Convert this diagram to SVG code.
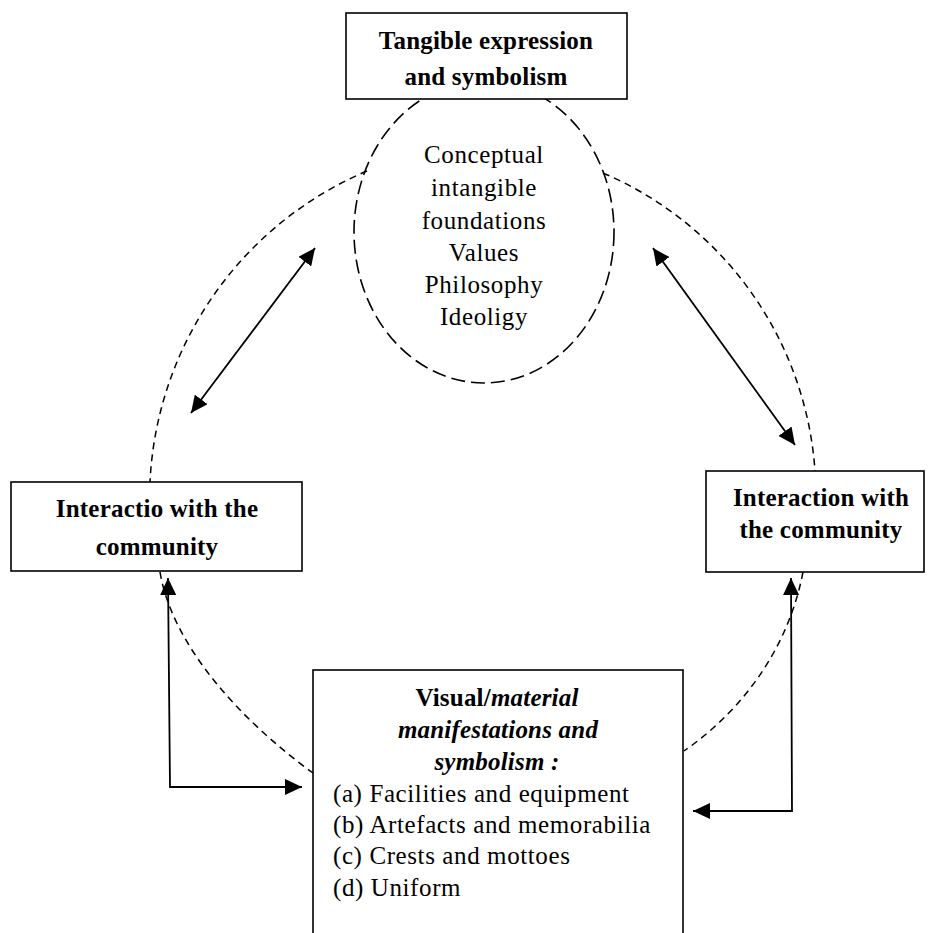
<svg xmlns="http://www.w3.org/2000/svg" width="928" height="933" viewBox="0 0 928 933">
<style>
text{font-family:"Liberation Serif","Times New Roman",serif;font-size:25px;fill:#000;letter-spacing:0.6px}
.b{font-weight:bold;letter-spacing:0.2px}
.c{text-anchor:middle}
.bi{font-weight:bold;font-style:italic;letter-spacing:0.2px}
.box{fill:#fff;stroke:#000;stroke-width:1.6}
.arc{fill:none;stroke:#000;stroke-width:1.5;stroke-dasharray:7 5}
.ell{fill:none;stroke:#000;stroke-width:1.6;stroke-dasharray:14 6}
.con{fill:none;stroke:#000;stroke-width:1.8}
</style>
<defs>
<marker id="ah" markerUnits="userSpaceOnUse" markerWidth="18" markerHeight="16" refX="17" refY="8" orient="auto-start-reverse">
<path d="M0,0 L17,8 L0,16 z" fill="#000"/>
</marker>
</defs>
<g id="cycle">
<path class="arc" d="M367,171 A356,356 0 0,0 150,482"/>
<path class="arc" d="M603,173 A350,350 0 0,1 815,471"/>
<path class="arc" d="M160,572 C172,645 240,720 313,773"/>
<path class="arc" d="M803,572 C790,640 750,705 684,751"/>
</g>
<g id="foundations">
<ellipse class="ell" cx="484" cy="232" rx="130" ry="151"/>
<text class="c" x="484" y="163">Conceptual</text>
<text class="c" x="484" y="196">intangible</text>
<text class="c" x="484" y="229">foundations</text>
<text class="c" x="484" y="261">Values</text>
<text class="c" x="484" y="293">Philosophy</text>
<text class="c" x="484" y="325">Ideoligy</text>
</g>
<g id="tangible">
<rect class="box" x="346" y="13" width="281" height="86"/>
<text class="b c" x="486" y="49">Tangible expression</text>
<text class="b c" x="486" y="85">and symbolism</text>
</g>
<g id="community-left">
<rect class="box" x="11" y="482" width="291" height="89"/>
<text class="b c" x="157" y="517">Interactio with the</text>
<text class="b c" x="157" y="555">community</text>
</g>
<g id="community-right">
<rect class="box" x="706" y="471" width="218" height="101"/>
<text class="b c" x="821" y="506">Interaction with</text>
<text class="b c" x="821" y="538">the community</text>
</g>
<g id="visual">
<rect class="box" x="313" y="670" width="370" height="280"/>
<text class="c" x="497" y="706"><tspan class="b">Visual/</tspan><tspan class="bi">material</tspan></text>
<text class="bi c" x="498" y="738">manifestations and</text>
<text class="bi c" x="497" y="770">symbolism :</text>
<text x="333" y="802">(a) Facilities and equipment</text>
<text x="333" y="833">(b) Artefacts and memorabilia</text>
<text x="333" y="864">(c) Crests and mottoes</text>
<text x="333" y="896">(d) Uniform</text>
</g>
<g id="connectors">
<line class="con" x1="191" y1="413" x2="315" y2="248" marker-start="url(#ah)" marker-end="url(#ah)"/>
<line class="con" x1="653" y1="248" x2="795" y2="445" marker-start="url(#ah)" marker-end="url(#ah)"/>
<polyline class="con" points="302,787 170,787 168,578" marker-start="url(#ah)" marker-end="url(#ah)"/>
<polyline class="con" points="693,811 792,811 791,578" marker-start="url(#ah)" marker-end="url(#ah)"/>
</g>
</svg>
